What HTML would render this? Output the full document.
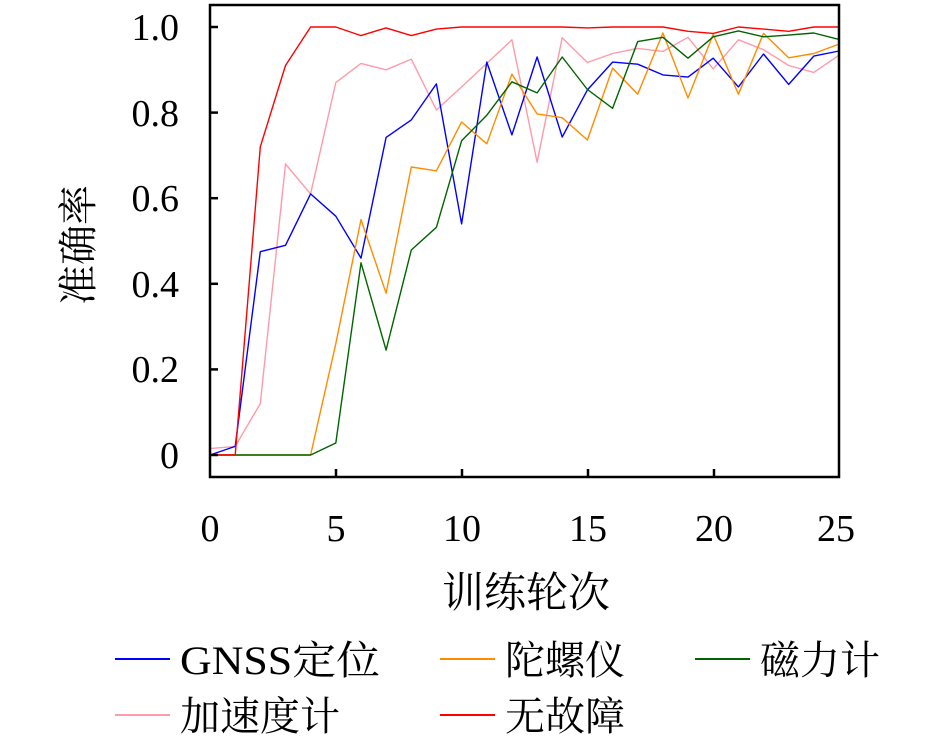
<!DOCTYPE html>
<html><head><meta charset="utf-8"><style>body{margin:0;background:#fff}</style></head><body>
<svg width="945" height="740" xmlns="http://www.w3.org/2000/svg" style="font-family:'Liberation Serif','Noto Serif CJK SC',serif">
<g fill="none" stroke-width="1.4" stroke-linejoin="round" id="lines"></g>
<rect x="210" y="5" width="629" height="472" fill="none" stroke="#000" stroke-width="2.5"/>
<g stroke="#000" stroke-width="2.5">
<line x1="210" y1="455" x2="218" y2="455"/><line x1="210" y1="369.4" x2="218" y2="369.4"/><line x1="210" y1="283.8" x2="218" y2="283.8"/><line x1="210" y1="198.2" x2="218" y2="198.2"/><line x1="210" y1="112.6" x2="218" y2="112.6"/><line x1="210" y1="27" x2="218" y2="27"/>
<line x1="336" y1="477" x2="336" y2="469"/><line x1="462" y1="477" x2="462" y2="469"/><line x1="588" y1="477" x2="588" y2="469"/><line x1="714" y1="477" x2="714" y2="469"/>
</g>
<g font-size="38" text-anchor="end">
<text x="179" y="468">0</text><text x="179" y="382">0.2</text><text x="179" y="297">0.4</text><text x="179" y="211">0.6</text><text x="179" y="126">0.8</text><text x="179" y="40">1.0</text>
</g>
<g font-size="38" text-anchor="middle">
<text x="210" y="541">0</text><text x="336" y="541">5</text><text x="462" y="541">10</text><text x="588" y="541">15</text><text x="714" y="541">20</text><text x="836" y="541">25</text>
</g>
<text x="526" y="607" font-size="42" text-anchor="middle">训练轮次</text>
<text transform="translate(92,245) rotate(-90)" font-size="40" text-anchor="middle">准确率</text>
<g stroke-width="2">
<line x1="115" y1="659" x2="170" y2="659" stroke="#0000ff"/>
<line x1="440" y1="659" x2="495" y2="659" stroke="#ff8c00"/>
<line x1="695" y1="659" x2="750" y2="659" stroke="#006400"/>
<line x1="115" y1="715" x2="170" y2="715" stroke="#ff9aaa"/>
<line x1="440" y1="715" x2="495" y2="715" stroke="#ff0000"/>
</g>
<g font-size="40">
<text x="180" y="674" textLength="200" lengthAdjust="spacingAndGlyphs">GNSS定位</text><text x="505" y="674">陀螺仪</text><text x="760" y="674">磁力计</text>
<text x="180" y="730">加速度计</text><text x="505" y="730">无故障</text>
</g>
</svg>
<script>
var D=[
["#ff9aaa",[0.015,0.02,0.12,0.68,0.61,0.87,0.915,0.90,0.925,0.806,0.86,0.915,0.97,0.684,0.975,0.917,0.938,0.95,0.943,0.976,0.902,0.97,0.947,0.91,0.894,0.934]],
["#0000ff",[0,0.02,0.475,0.49,0.61,0.558,0.46,0.742,0.783,0.867,0.54,0.918,0.748,0.93,0.743,0.853,0.918,0.913,0.888,0.883,0.927,0.86,0.937,0.866,0.932,0.944]],
["#ff8c00",[0,0,0,0,0,0.26,0.55,0.378,0.673,0.664,0.778,0.727,0.89,0.797,0.788,0.736,0.904,0.843,0.986,0.834,0.983,0.843,0.985,0.928,0.938,0.96]],
["#006400",[0,0,0,0,0,0.028,0.449,0.245,0.479,0.532,0.734,0.794,0.872,0.846,0.93,0.854,0.81,0.966,0.976,0.927,0.977,0.991,0.977,0.981,0.986,0.971]],
["#ff0000",[0,0,0.72,0.91,1,1,0.98,0.998,0.98,0.995,1,1,1,1,1,0.998,1,1,1,0.99,0.985,1,0.995,0.99,1,1]]
];
var g=document.getElementById('lines'),s='';
D.forEach(function(d){var p=d[1].map(function(v,i){return (210+25.16*i).toFixed(1)+','+(455-428*v).toFixed(1)}).join(' ');s+='<polyline stroke="'+d[0]+'" points="'+p+'"/>';});
g.innerHTML=s;
</script>
</body></html>
